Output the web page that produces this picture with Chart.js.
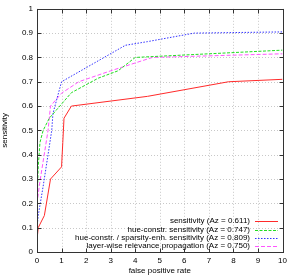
<!DOCTYPE html>
<html><head><meta charset="utf-8">
<script src="https://cdn.jsdelivr.net/npm/chart.js@4/dist/chart.umd.min.js"></script>
<style>html,body{margin:0;padding:0;background:#fff}#wrap{width:291px;height:277px}</style>
</head><body><div id="wrap"><canvas id="c" width="291" height="277"></canvas></div>
<script>
const xTickLabels = [0,1,2,3,4,5,6,7,8,9,10];
const yTickLabels = [0,0.1,0.2,0.3,0.4,0.5,0.6,0.7,0.8,0.9,1];

const seriesNames = [
  'sensitivity (Az = 0.611)',
  'hue-constr. sensitivity (Az = 0.747)',
  'hue-constr. / sparsity-enh. sensitivity (Az = 0.809)',
  'layer-wise relevance propagation (Az = 0.750)'
];

const fprSens = [0, 0.05, 0.3, 0.55, 1.0, 1.05, 1.1, 1.4, 4.5, 7.8, 10];
const tprSens = [0.05, 0.10, 0.15, 0.30, 0.35, 0.45, 0.55, 0.60, 0.64, 0.70, 0.71];

const fprHue = [0, 0, 0.05, 0.12, 0.25, 0.5, 1.4, 2.5, 3.3, 4.0, 10];
const tprHue = [0.10, 0.20, 0.35, 0.45, 0.50, 0.55, 0.655, 0.715, 0.745, 0.80, 0.83];

const fprSparse = [0, 0.05, 0.25, 0.45, 0.6, 0.65, 1.0, 3.6, 4.5, 6.4, 10];
const tprSparse = [0.10, 0.15, 0.27, 0.40, 0.50, 0.57, 0.70, 0.85, 0.865, 0.90, 0.905];

const fprLrp = [0, 0, 0.12, 0.45, 0.55, 1.0, 1.7, 3.0, 4.7, 10];
const tprLrp = [0.10, 0.20, 0.29, 0.50, 0.60, 0.653, 0.70, 0.745, 0.80, 0.815];

const colors = ['#ff2a2a', '#22dd22', '#3333ff', '#ff55ff'];
const dashes = [[], [3, 1.5], [1.5, 1.5], [4, 2]];

function pts(xs, ys) { return xs.map((x, i) => ({x: x, y: ys[i]})); }
const allData = [pts(fprSens, tprSens), pts(fprHue, tprHue), pts(fprSparse, tprSparse), pts(fprLrp, tprLrp)];

const FONT = '"Liberation Sans", Arial, sans-serif';

const frame = {
  id: 'frame',
  beforeDatasetsDraw(chart) {
    const {ctx, chartArea: a, scales: {x, y}} = chart;
    ctx.save();
    ctx.strokeStyle = '#c8c8c8';
    ctx.lineWidth = 1;
    ctx.setLineDash([1, 2]);
    xTickLabels.forEach(v => {
      const px = Math.round(x.getPixelForValue(v)) + 0.5;
      ctx.beginPath(); ctx.moveTo(px, a.top); ctx.lineTo(px, a.bottom); ctx.stroke();
    });
    yTickLabels.forEach(v => {
      const py = Math.round(y.getPixelForValue(v)) + 0.5;
      ctx.beginPath(); ctx.moveTo(a.left, py); ctx.lineTo(a.right, py); ctx.stroke();
    });
    ctx.restore();
  },
  afterDatasetsDraw(chart) {
    const {ctx, chartArea: a, scales: {x, y}} = chart;
    ctx.save();
    ctx.setLineDash([]);
    ctx.strokeStyle = '#333';
    ctx.lineWidth = 1;
    const L = Math.round(a.left) + 0.5, R = Math.round(a.right) + 0.5;
    const T = Math.round(a.top) + 0.5, B = Math.round(a.bottom) + 0.5;
    ctx.strokeRect(L, T, R - L, B - T);
    const tl = 4;
    xTickLabels.forEach(v => {
      const px = Math.round(x.getPixelForValue(v)) + 0.5;
      ctx.beginPath(); ctx.moveTo(px, B); ctx.lineTo(px, B - tl); ctx.stroke();
      ctx.beginPath(); ctx.moveTo(px, T); ctx.lineTo(px, T + tl); ctx.stroke();
    });
    yTickLabels.forEach(v => {
      const py = Math.round(y.getPixelForValue(v)) + 0.5;
      ctx.beginPath(); ctx.moveTo(L, py); ctx.lineTo(L + tl, py); ctx.stroke();
      ctx.beginPath(); ctx.moveTo(R, py); ctx.lineTo(R - tl, py); ctx.stroke();
    });
    // legend
    ctx.font = '8px ' + FONT;
    ctx.textAlign = 'right';
    ctx.textBaseline = 'middle';
    const ys = [221, 229.5, 237.5, 245.5];
    seriesNames.forEach((name, i) => {
      ctx.fillStyle = '#000';
      ctx.fillText(name, 250, ys[i]);
      ctx.strokeStyle = colors[i];
      ctx.lineWidth = 1;
      ctx.setLineDash(dashes[i]);
      ctx.beginPath(); ctx.moveTo(255, Math.round(ys[i]) + 0.5); ctx.lineTo(278, Math.round(ys[i]) + 0.5); ctx.stroke();
    });
    ctx.restore();
  }
};

new Chart(document.getElementById('c'), {
  type: 'line',
  data: {
    datasets: seriesNames.map((n, i) => ({
      label: n,
      data: allData[i],
      borderColor: colors[i],
      borderWidth: 1,
      borderDash: dashes[i],
      pointRadius: 0,
      fill: false,
      tension: 0
    }))
  },
  options: {
    responsive: false,
    animation: false,
    devicePixelRatio: 1,
    layout: {padding: {top: 4, right: 6, left: 0, bottom: 0}},
    plugins: {legend: {display: false}, tooltip: {enabled: false}},
    scales: {
      x: {
        type: 'linear', min: 0, max: 10,
        afterFit(s) { s.height = 25; },
        afterBuildTicks(s) { s.ticks = xTickLabels.map(v => ({value: v})); },
        grid: {display: false, drawTicks: false},
        border: {display: false},
        ticks: {padding: 4, color: '#000', font: {family: FONT, size: 8}, maxRotation: 0, autoSkip: false},
        title: {display: true, text: 'false positive rate', color: '#000', font: {family: FONT, size: 8}, padding: {top: 0, bottom: 1}}
      },
      y: {
        type: 'linear', min: 0, max: 1,
        afterFit(s) { s.width = 37; },
        afterBuildTicks(s) { s.ticks = yTickLabels.map(v => ({value: v})); },
        grid: {display: false, drawTicks: false},
        border: {display: false},
        ticks: {padding: 4, color: '#000', font: {family: FONT, size: 8}, autoSkip: false, callback: v => String(v)},
        title: {display: true, text: 'sensitivity', color: '#000', font: {family: FONT, size: 8}, padding: {top: 0, bottom: 0}}
      }
    }
  },
  plugins: [frame]
});
</script></body></html>
